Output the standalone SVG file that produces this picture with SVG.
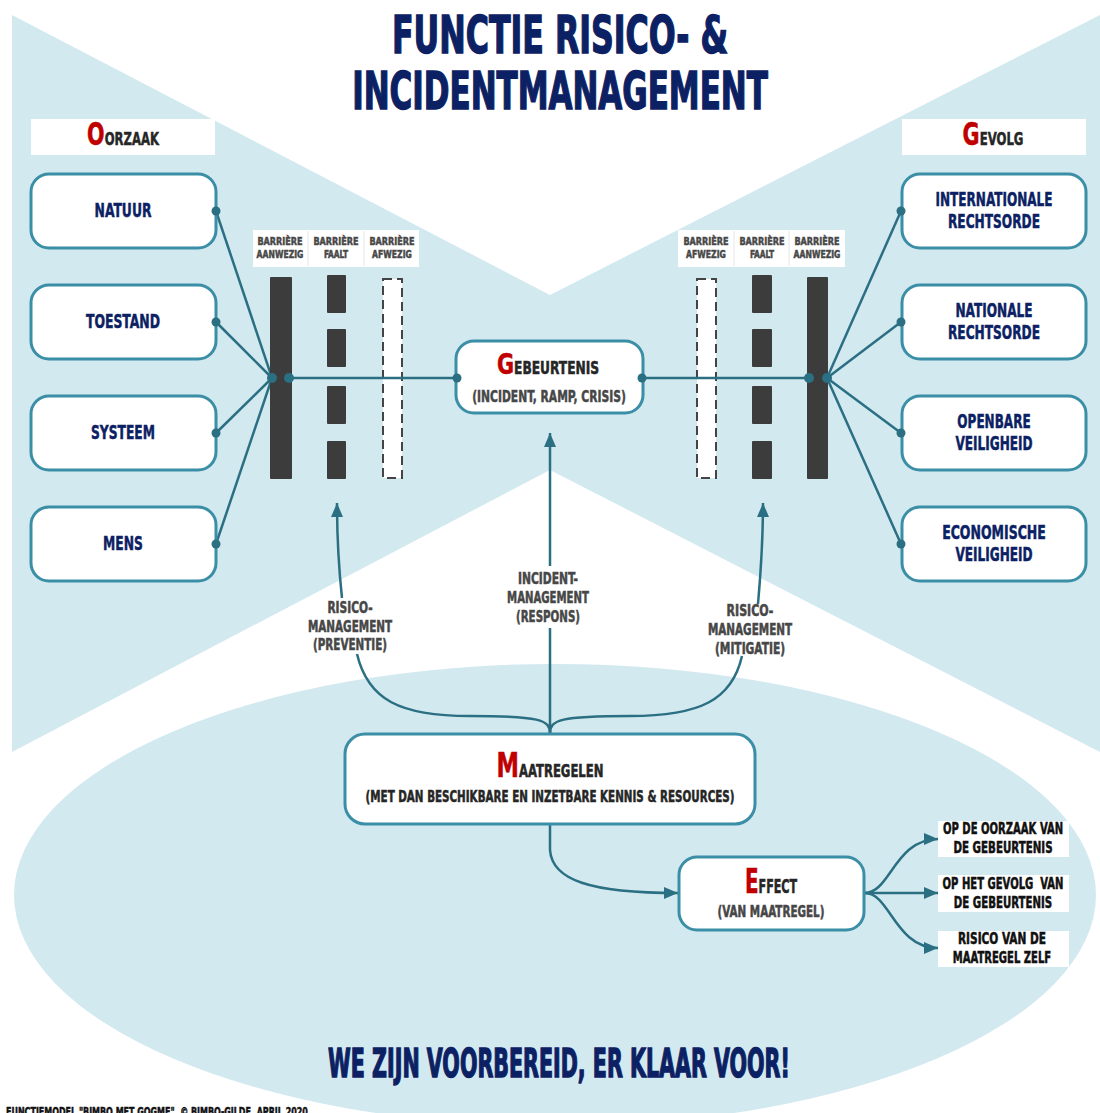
<svg xmlns="http://www.w3.org/2000/svg" width="1100" height="1113" viewBox="0 0 1100 1113">
  <style>
    text { font-family: "Liberation Sans Narrow", "DejaVu Sans Condensed", "Liberation Sans", sans-serif; font-weight: bold; text-anchor: middle; stroke-width: 0.5; }
    .navy { fill: #0c2163; stroke: #0c2163; }
    .gray { fill: #474747; stroke: #474747; }
    .dark { fill: #262626; stroke: #262626; }
    .black { fill: #111111; stroke: #111111; }
    .red { fill: #c00000; stroke: #c00000; }
    .big { stroke-width: 1.4; }
    .node { fill: #ffffff; stroke: #3a8ea5; stroke-width: 3; }
    .tag { fill: #ffffff; }
    .link { fill: none; stroke: #2b6f83; stroke-width: 2.5; }
    .arrow { fill: none; stroke: #2b6f83; stroke-width: 2.5; marker-end: url(#head); }
    .dot { fill: #2b6f83; }
    .bar { fill: #3c3c3c; }
    .gap { fill: #ffffff; stroke: #444444; stroke-width: 2; stroke-dasharray: 9 5; }
    .sep { stroke: #e6e6e6; stroke-width: 1; }
  </style>
  <defs>
    <marker id="head" markerUnits="userSpaceOnUse" markerWidth="14" markerHeight="12" refX="14" refY="6" orient="auto">
      <path d="M0,0 L14,6 L0,12 z" fill="#2b6f83"/>
    </marker>
  </defs>

  <!-- background -->
  <rect x="0" y="0" width="1100" height="1113" fill="#ffffff"/>
  <polygon points="12,15 550,295 1100,15 1100,752 550,470 12,752" fill="#d3e9f0"/>
  <ellipse cx="555" cy="895" rx="541" ry="231" fill="#d3e9f0"/>

  <!-- title -->
  <g id="title">
    <text class="navy big" transform="translate(560,53) scale(0.78,1)" font-size="51" textLength="431" lengthAdjust="spacingAndGlyphs">FUNCTIE RISICO- &amp;</text>
    <text class="navy big" transform="translate(560,109) scale(0.78,1)" font-size="51" textLength="533" lengthAdjust="spacingAndGlyphs">INCIDENTMANAGEMENT</text>
  </g>

  <!-- column headers -->
  <g id="hdr-oorzaak">
    <rect class="tag" x="31" y="119" width="184" height="36"/>
    <text transform="translate(123,145) scale(0.78,1)" textLength="92" lengthAdjust="spacingAndGlyphs"><tspan class="red" font-size="32">O</tspan><tspan class="dark" font-size="18">ORZAAK</tspan></text>
  </g>
  <g id="hdr-gevolg">
    <rect class="tag" x="902" y="119" width="184" height="36"/>
    <text transform="translate(993,145) scale(0.78,1)" textLength="78" lengthAdjust="spacingAndGlyphs"><tspan class="red" font-size="32">G</tspan><tspan class="dark" font-size="18">EVOLG</tspan></text>
  </g>

  <!-- connectors -->
  <g id="connectors">
    <line class="link" x1="216" y1="211" x2="272" y2="378"/>
    <line class="link" x1="216" y1="322" x2="272" y2="378"/>
    <line class="link" x1="216" y1="433" x2="272" y2="378"/>
    <line class="link" x1="216" y1="544" x2="272" y2="378"/>
    <line class="link" x1="901" y1="211" x2="827" y2="378"/>
    <line class="link" x1="901" y1="322" x2="827" y2="378"/>
    <line class="link" x1="901" y1="433" x2="827" y2="378"/>
    <line class="link" x1="901" y1="544" x2="827" y2="378"/>

    <!-- Maatregelen up to the barriers and the event -->
    <path class="link" d="M550,733 C550,720 540,716 470,716 C400,716 368,700 357,654"/>
    <path class="arrow" d="M342,598 C339,570 337,545 337,503"/>
    <path class="link" d="M550,733 C550,720 560,716 630,716 C700,716 732,700 742,656"/>
    <path class="arrow" d="M758,604 C761,570 763,545 763,503"/>
    <path class="link" d="M550,733 L550,628"/>
    <path class="arrow" d="M550,566 L550,433"/>

    <!-- Maatregelen to Effect -->
    <path class="arrow" d="M550,824 L550,850 C552,880 590,893 678,893"/>

    <!-- Effect branches -->
    <path class="arrow" d="M865,893 C890,893 895,839 938,839"/>
    <path class="arrow" d="M865,893 L938,893"/>
    <path class="arrow" d="M865,893 C890,893 895,948 938,948"/>
  </g>

  <!-- left barriers -->
  <g id="barriers-left">
    <rect class="tag" x="253" y="230" width="166" height="37"/>
    <line class="sep" x1="308" y1="231" x2="308" y2="266"/>
    <line class="sep" x1="364" y1="231" x2="364" y2="266"/>
    <text class="gray" transform="translate(280,245) scale(0.78,1)" font-size="11" textLength="58" lengthAdjust="spacingAndGlyphs">BARRIÈRE</text>
    <text class="gray" transform="translate(280,258) scale(0.78,1)" font-size="11" textLength="60" lengthAdjust="spacingAndGlyphs">AANWEZIG</text>
    <text class="gray" transform="translate(336,245) scale(0.78,1)" font-size="11" textLength="58" lengthAdjust="spacingAndGlyphs">BARRIÈRE</text>
    <text class="gray" transform="translate(336,258) scale(0.78,1)" font-size="11" textLength="31" lengthAdjust="spacingAndGlyphs">FAALT</text>
    <text class="gray" transform="translate(392,245) scale(0.78,1)" font-size="11" textLength="58" lengthAdjust="spacingAndGlyphs">BARRIÈRE</text>
    <text class="gray" transform="translate(392,258) scale(0.78,1)" font-size="11" textLength="51" lengthAdjust="spacingAndGlyphs">AFWEZIG</text>
    <rect class="bar" x="270" y="277" width="22" height="202" rx="1"/>
    <rect class="bar" x="327" y="275" width="19" height="38" rx="1"/>
    <rect class="bar" x="327" y="329" width="19" height="38" rx="1"/>
    <rect class="bar" x="327" y="386" width="19" height="38" rx="1"/>
    <rect class="bar" x="327" y="441" width="19" height="38" rx="1"/>
    <rect class="gap" x="383" y="279" width="19" height="199"/>
  </g>

  <!-- right barriers -->
  <g id="barriers-right">
    <rect class="tag" x="678" y="230" width="167" height="37"/>
    <line class="sep" x1="734" y1="231" x2="734" y2="266"/>
    <line class="sep" x1="789" y1="231" x2="789" y2="266"/>
    <text class="gray" transform="translate(706,245) scale(0.78,1)" font-size="11" textLength="58" lengthAdjust="spacingAndGlyphs">BARRIÈRE</text>
    <text class="gray" transform="translate(706,258) scale(0.78,1)" font-size="11" textLength="51" lengthAdjust="spacingAndGlyphs">AFWEZIG</text>
    <text class="gray" transform="translate(762,245) scale(0.78,1)" font-size="11" textLength="58" lengthAdjust="spacingAndGlyphs">BARRIÈRE</text>
    <text class="gray" transform="translate(762,258) scale(0.78,1)" font-size="11" textLength="31" lengthAdjust="spacingAndGlyphs">FAALT</text>
    <text class="gray" transform="translate(817,245) scale(0.78,1)" font-size="11" textLength="58" lengthAdjust="spacingAndGlyphs">BARRIÈRE</text>
    <text class="gray" transform="translate(817,258) scale(0.78,1)" font-size="11" textLength="60" lengthAdjust="spacingAndGlyphs">AANWEZIG</text>
    <rect class="gap" x="697" y="279" width="19" height="199"/>
    <rect class="bar" x="752" y="275" width="20" height="38" rx="1"/>
    <rect class="bar" x="752" y="329" width="20" height="38" rx="1"/>
    <rect class="bar" x="752" y="386" width="20" height="38" rx="1"/>
    <rect class="bar" x="752" y="441" width="20" height="38" rx="1"/>
    <rect class="bar" x="807" y="277" width="21" height="202" rx="1"/>
  </g>

  <!-- event line across the barriers -->
  <g id="event-line">
    <line class="link" x1="289" y1="378" x2="457" y2="378"/>
    <line class="link" x1="642" y1="378" x2="809" y2="378"/>
    <circle class="dot" cx="272" cy="378" r="5"/>
    <circle class="dot" cx="289" cy="378" r="5"/>
    <circle class="dot" cx="809" cy="378" r="5"/>
    <circle class="dot" cx="827" cy="378" r="5"/>
  </g>

  <!-- causes -->
  <g id="natuur">
    <rect class="node" x="31" y="174" width="185" height="74" rx="18"/>
    <text class="navy" transform="translate(123,217) scale(0.78,1)" font-size="20" textLength="73" lengthAdjust="spacingAndGlyphs">NATUUR</text>
    <circle class="dot" cx="216" cy="211" r="4.5"/>
  </g>
  <g id="toestand">
    <rect class="node" x="31" y="285" width="185" height="74" rx="18"/>
    <text class="navy" transform="translate(123,328) scale(0.78,1)" font-size="20" textLength="95" lengthAdjust="spacingAndGlyphs">TOESTAND</text>
    <circle class="dot" cx="216" cy="322" r="4.5"/>
  </g>
  <g id="systeem">
    <rect class="node" x="31" y="396" width="185" height="74" rx="18"/>
    <text class="navy" transform="translate(123,439) scale(0.78,1)" font-size="20" textLength="82" lengthAdjust="spacingAndGlyphs">SYSTEEM</text>
    <circle class="dot" cx="216" cy="433" r="4.5"/>
  </g>
  <g id="mens">
    <rect class="node" x="31" y="507" width="185" height="74" rx="18"/>
    <text class="navy" transform="translate(123,550) scale(0.78,1)" font-size="20" textLength="51" lengthAdjust="spacingAndGlyphs">MENS</text>
    <circle class="dot" cx="216" cy="544" r="4.5"/>
  </g>

  <!-- consequences -->
  <g id="internationale-rechtsorde">
    <rect class="node" x="902" y="174" width="184" height="74" rx="18"/>
    <text class="navy" transform="translate(994,206) scale(0.78,1)" font-size="20" textLength="150" lengthAdjust="spacingAndGlyphs">INTERNATIONALE</text>
    <text class="navy" transform="translate(994,228) scale(0.78,1)" font-size="20" textLength="118" lengthAdjust="spacingAndGlyphs">RECHTSORDE</text>
    <circle class="dot" cx="901" cy="211" r="4.5"/>
  </g>
  <g id="nationale-rechtsorde">
    <rect class="node" x="902" y="285" width="184" height="74" rx="18"/>
    <text class="navy" transform="translate(994,317) scale(0.78,1)" font-size="20" textLength="99" lengthAdjust="spacingAndGlyphs">NATIONALE</text>
    <text class="navy" transform="translate(994,339) scale(0.78,1)" font-size="20" textLength="118" lengthAdjust="spacingAndGlyphs">RECHTSORDE</text>
    <circle class="dot" cx="901" cy="322" r="4.5"/>
  </g>
  <g id="openbare-veiligheid">
    <rect class="node" x="902" y="396" width="184" height="74" rx="18"/>
    <text class="navy" transform="translate(994,428) scale(0.78,1)" font-size="20" textLength="94" lengthAdjust="spacingAndGlyphs">OPENBARE</text>
    <text class="navy" transform="translate(994,450) scale(0.78,1)" font-size="20" textLength="99" lengthAdjust="spacingAndGlyphs">VEILIGHEID</text>
    <circle class="dot" cx="901" cy="433" r="4.5"/>
  </g>
  <g id="economische-veiligheid">
    <rect class="node" x="902" y="507" width="184" height="74" rx="18"/>
    <text class="navy" transform="translate(994,539) scale(0.78,1)" font-size="20" textLength="133" lengthAdjust="spacingAndGlyphs">ECONOMISCHE</text>
    <text class="navy" transform="translate(994,561) scale(0.78,1)" font-size="20" textLength="99" lengthAdjust="spacingAndGlyphs">VEILIGHEID</text>
    <circle class="dot" cx="901" cy="544" r="4.5"/>
  </g>

  <!-- event -->
  <g id="gebeurtenis">
    <rect class="node" x="456" y="341" width="187" height="72" rx="18"/>
    <text transform="translate(548,374) scale(0.78,1)" textLength="131" lengthAdjust="spacingAndGlyphs"><tspan class="red" font-size="29">G</tspan><tspan class="dark" font-size="17">EBEURTENIS</tspan></text>
    <text class="gray" transform="translate(549,402) scale(0.78,1)" font-size="16" textLength="197" lengthAdjust="spacingAndGlyphs">(INCIDENT, RAMP, CRISIS)</text>
    <circle class="dot" cx="457" cy="378" r="4.5"/>
    <circle class="dot" cx="642" cy="378" r="4.5"/>
  </g>

  <!-- arrow labels -->
  <g id="label-preventie">
    <text class="gray" transform="translate(350,613) scale(0.78,1)" font-size="15" textLength="58" lengthAdjust="spacingAndGlyphs">RISICO-</text>
    <text class="gray" transform="translate(350,632) scale(0.78,1)" font-size="15" textLength="108" lengthAdjust="spacingAndGlyphs">MANAGEMENT</text>
    <text class="gray" transform="translate(350,650) scale(0.78,1)" font-size="15" textLength="95" lengthAdjust="spacingAndGlyphs">(PREVENTIE)</text>
  </g>
  <g id="label-respons">
    <text class="gray" transform="translate(548,584) scale(0.78,1)" font-size="15" textLength="77" lengthAdjust="spacingAndGlyphs">INCIDENT-</text>
    <text class="gray" transform="translate(548,603) scale(0.78,1)" font-size="15" textLength="105" lengthAdjust="spacingAndGlyphs">MANAGEMENT</text>
    <text class="gray" transform="translate(548,622) scale(0.78,1)" font-size="15" textLength="82" lengthAdjust="spacingAndGlyphs">(RESPONS)</text>
  </g>
  <g id="label-mitigatie">
    <text class="gray" transform="translate(750,616) scale(0.78,1)" font-size="15" textLength="60" lengthAdjust="spacingAndGlyphs">RISICO-</text>
    <text class="gray" transform="translate(750,635) scale(0.78,1)" font-size="15" textLength="108" lengthAdjust="spacingAndGlyphs">MANAGEMENT</text>
    <text class="gray" transform="translate(750,654) scale(0.78,1)" font-size="15" textLength="90" lengthAdjust="spacingAndGlyphs">(MITIGATIE)</text>
  </g>

  <!-- measures -->
  <g id="maatregelen">
    <rect class="node" x="345" y="734" width="410" height="90" rx="20"/>
    <text transform="translate(550,777) scale(0.78,1)" textLength="137" lengthAdjust="spacingAndGlyphs"><tspan class="red" font-size="33">M</tspan><tspan class="dark" font-size="17">AATREGELEN</tspan></text>
    <text class="dark" transform="translate(550,802) scale(0.78,1)" font-size="15" textLength="473" lengthAdjust="spacingAndGlyphs">(MET DAN BESCHIKBARE EN INZETBARE KENNIS &amp; RESOURCES)</text>
  </g>

  <!-- effect -->
  <g id="effect">
    <rect class="node" x="679" y="857" width="185" height="73" rx="18"/>
    <text transform="translate(771,893) scale(0.78,1)" textLength="67" lengthAdjust="spacingAndGlyphs"><tspan class="red" font-size="34">E</tspan><tspan class="dark" font-size="19">FFECT</tspan></text>
    <text class="gray" transform="translate(771,917) scale(0.78,1)" font-size="15" textLength="137" lengthAdjust="spacingAndGlyphs">(VAN MAATREGEL)</text>
  </g>

  <!-- effect outcomes -->
  <g id="op-de-oorzaak">
    <rect class="tag" x="938" y="821" width="131" height="36"/>
    <text class="black" transform="translate(1003,834) scale(0.78,1)" font-size="15" textLength="154" lengthAdjust="spacingAndGlyphs">OP DE OORZAAK VAN</text>
    <text class="black" transform="translate(1003,853) scale(0.78,1)" font-size="15" textLength="127" lengthAdjust="spacingAndGlyphs">DE GEBEURTENIS</text>
  </g>
  <g id="op-het-gevolg">
    <rect class="tag" x="938" y="875" width="131" height="37"/>
    <text class="black" transform="translate(1003,889) scale(0.78,1)" font-size="15" textLength="155" lengthAdjust="spacingAndGlyphs" xml:space="preserve">OP HET GEVOLG  VAN</text>
    <text class="black" transform="translate(1003,908) scale(0.78,1)" font-size="15" textLength="126" lengthAdjust="spacingAndGlyphs">DE GEBEURTENIS</text>
  </g>
  <g id="risico-maatregel">
    <rect class="tag" x="938" y="931" width="131" height="36"/>
    <text class="black" transform="translate(1002,944) scale(0.78,1)" font-size="15" textLength="113" lengthAdjust="spacingAndGlyphs">RISICO VAN DE</text>
    <text class="black" transform="translate(1002,963) scale(0.78,1)" font-size="15" textLength="126" lengthAdjust="spacingAndGlyphs">MAATREGEL ZELF</text>
  </g>

  <!-- slogan and credit -->
  <g id="slogan">
    <text class="navy big" transform="translate(559,1077) scale(0.78,1)" font-size="39" textLength="592" lengthAdjust="spacingAndGlyphs">WE ZIJN VOORBEREID, ER KLAAR VOOR!</text>
  </g>
  <g id="credit">
    <text class="black" transform="translate(6,1116) scale(0.78,1)" font-size="12" style="text-anchor:start" textLength="387" lengthAdjust="spacingAndGlyphs" xml:space="preserve">FUNCTIEMODEL "BIMBO MET GOGME"  © BIMBO-GILDE, APRIL 2020</text>
  </g>
</svg>
